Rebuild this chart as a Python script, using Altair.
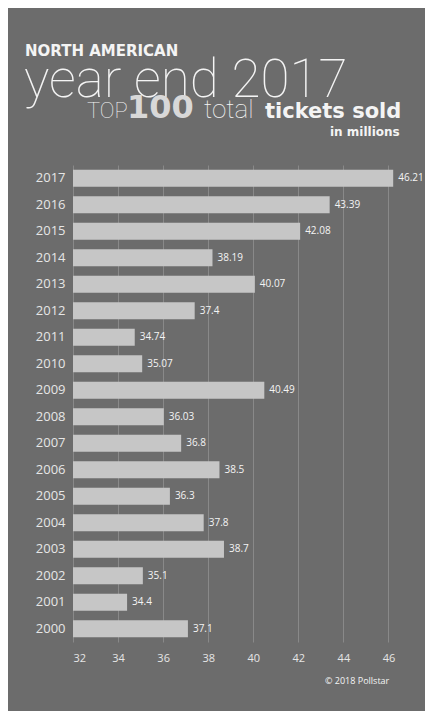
import altair as alt
import pandas as pd

years = ["2017", "2016", "2015", "2014", "2013", "2012", "2011", "2010", "2009",
         "2008", "2007", "2006", "2005", "2004", "2003", "2002", "2001", "2000"]
tickets = [46.21, 43.39, 42.08, 38.19, 40.07, 37.4, 34.74, 35.07, 40.49,
           36.03, 36.8, 38.5, 36.3, 37.8, 38.7, 35.1, 34.4, 37.1]
labels = ["46.21", "43.39", "42.08", "38.19", "40.07", "37.4", "34.74", "35.07", "40.49",
          "36.03", "36.8", "38.5", "36.3", "37.8", "38.7", "35.1", "34.4", "37.1"]
x_ticks = [32, 34, 36, 38, 40, 42, 44, 46]

df = pd.DataFrame({"year": years, "tickets": tickets, "label": labels})

BG = "#6c6c6c"
BAR = "#c6c6c6"
TXT = "#f4f4f4"

y_enc = alt.Y("year:O", sort=years, title=None,
              scale=alt.Scale(paddingInner=0.35, paddingOuter=0.175),
              axis=alt.Axis(ticks=False, domain=False, labelPadding=8,
                            labelFontSize=13, labelColor="#e6e6e6",
                            labelFont="Open Sans"))
x_enc = alt.X("tickets:Q", title=None,
              scale=alt.Scale(domain=[32, 47], nice=False, zero=False),
              axis=alt.Axis(values=x_ticks, ticks=False, domain=False,
                            labelPadding=10, labelFontSize=11,
                            labelColor="#e6e6e6", labelFont="Open Sans",
                            grid=True, gridColor="#9c9c9c", gridOpacity=0.6,
                            gridWidth=1))

bars = alt.Chart(df).mark_bar(color=BAR, clip=True).encode(x=x_enc, y=y_enc)
vals = alt.Chart(df).mark_text(align="left", dx=5, fontSize=10, color=TXT,
                               font="Open Sans").encode(
    x="tickets:Q", y=alt.Y("year:O", sort=years), text="label:N")


def txt(s, x, y, size, weight, font="Liberation Sans", color=TXT):
    return alt.Chart(alt.Data(values=[{"t": s}])).mark_text(
        align="left", baseline="alphabetic", fontSize=size,
        fontWeight=weight, font=font, color=color
    ).encode(x=alt.value(x), y=alt.value(y), text="t:N")


# plot origin on page: x=73, y=165
ox, oy = 73, 165
titles = [
    txt("NORTH AMERICAN", 25 - ox, 56 - oy, 15, 900, "DejaVu Sans"),
    txt("year end 2017", 24 - ox, 97 - oy, 53, 100, "Roboto"),
    txt("TOP", 87 - ox, 118 - oy, 22, 100, "Roboto"),
    txt("100", 127 - ox, 118 - oy, 32, 900, "DejaVu Sans", "#d8d8d8"),
    txt("total", 204 - ox, 118 - oy, 26, 100, "Roboto"),
    txt("tickets sold", 265 - ox, 118 - oy, 21, 900, "DejaVu Sans"),
    txt("in millions", 330 - ox, 136 - oy, 12, 900, "DejaVu Sans"),
    txt("© 2018 Pollstar", 325 - ox, 684 - oy, 9, 400, "Open Sans"),
]

chart = alt.layer(bars, vals, *titles).properties(
    width=338, height=477, background=BG,
    autosize=alt.AutoSizeParams(type="none"),
    padding={"left": 65, "top": 157, "right": 14, "bottom": 69},
).configure_view(stroke=None)

chart.save("out.html", embed_options={"renderer": "svg", "actions": False})
